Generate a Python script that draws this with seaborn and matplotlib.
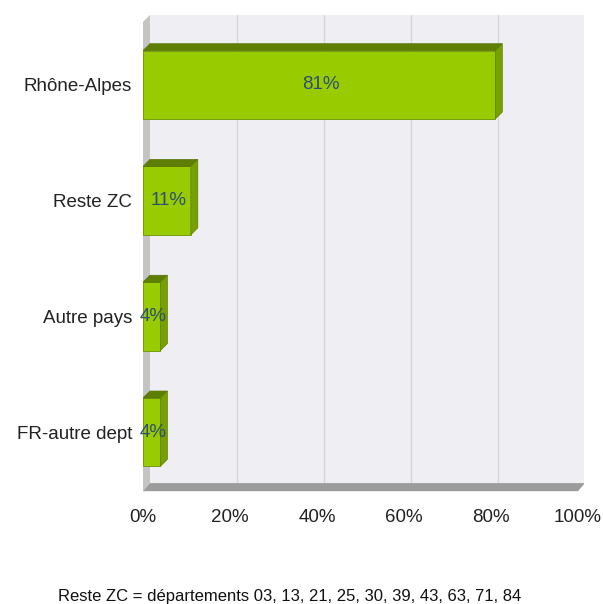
#Origine geographique - barres horizontales facon 3D

import matplotlib
matplotlib.use('Agg')
import matplotlib.pyplot as plt
from matplotlib.patches import Polygon, Rectangle
import seaborn as sns
import pandas as pd

#1.Data

regions=['Rhône-Alpes','Reste ZC','Autre pays','FR-autre dept']
parts=[81,11,4,4]
x_ticks=[0,20,40,60,80,100]
note='Reste ZC = départements 03, 13, 21, 25, 30, 39, 43, 63, 71, 84'

df=pd.DataFrame({'region':regions,'part':parts})

#2.Style

sns.set_style('white')
plt.rcParams['font.family']=['Liberation Sans','DejaVu Sans']

fig=plt.figure(figsize=(6.03,6.04),dpi=100)
ax=fig.add_axes([143/603,1-492/604,(584-143)/603,(492-15)/604])

green='#99CC00'
green_top='#5E7E00'
green_side='#779F00'
dx=1.6      # 3D depth on x (data units)
dy=0.06     # 3D depth on y (category units)
y_top=-0.603
y_floor_back=3.44
y_floor_front=y_floor_back+dy+0.01

#3.Walls and floor

ax.add_patch(Rectangle((dx,y_top),100,y_floor_back-y_top,facecolor='#EEEEF3',edgecolor='none',zorder=0))
for v in x_ticks[1:]:
    ax.plot([v+dx,v+dx],[y_top,y_floor_back],color='#D3D3DC',lw=0.9,zorder=0.5)
ax.add_patch(Polygon([(0,y_top+dy),(dx,y_top),(dx,y_floor_back),(0,y_floor_front)],
                     closed=True,facecolor='#C4C4C4',edgecolor='none',zorder=0.6))
ax.add_patch(Polygon([(dx,y_floor_back),(100+dx,y_floor_back),(100,y_floor_front),(0,y_floor_front)],
                     closed=True,facecolor='#9C9C9C',edgecolor='none',zorder=0.6))

#4.Bars

sns.barplot(data=df,y='region',x='part',orient='h',color=green,width=0.59,
            saturation=1,edgecolor='#6E9400',linewidth=0.6,ax=ax,zorder=2)

for bar in ax.patches[-len(regions):]:
    x0=bar.get_x(); y0=bar.get_y(); w=bar.get_width(); h=bar.get_height()
    ax.add_patch(Polygon([(x0,y0),(x0+dx,y0-dy),(x0+w+dx,y0-dy),(x0+w,y0)],closed=True,
                         facecolor=green_top,edgecolor='#557200',lw=0.5,zorder=3))
    ax.add_patch(Polygon([(x0+w,y0),(x0+w+dx,y0-dy),(x0+w+dx,y0+h-dy),(x0+w,y0+h)],closed=True,
                         facecolor=green_side,edgecolor='#5E8000',lw=0.5,zorder=3))

for i,v in enumerate(parts):
    ax.text(v/2+0.3,i,f'{v}%',ha='center',va='center',fontsize=13.5,color='#2C4F72',zorder=4)

#5.Axes

ax.set_xlim(0,100+6/4.35)
ax.set_ylim(y_floor_front+0.007,y_top)
ax.set_xticks(x_ticks)
ax.set_xticklabels([f'{v}%' for v in x_ticks])
ax.set_xlabel('')
ax.set_ylabel('')
ax.tick_params(axis='x',length=3,color='#DDDDDD',pad=9,labelsize=13.5,labelcolor='#222222')
ax.tick_params(axis='y',length=0,pad=8,labelsize=13.5,labelcolor='#222222')
for s in ax.spines.values():
    s.set_visible(False)

fig.text(290/603,1-596/604,note,ha='center',va='center',fontsize=12,color='#111111')

plt.savefig('out.png',dpi=100)
